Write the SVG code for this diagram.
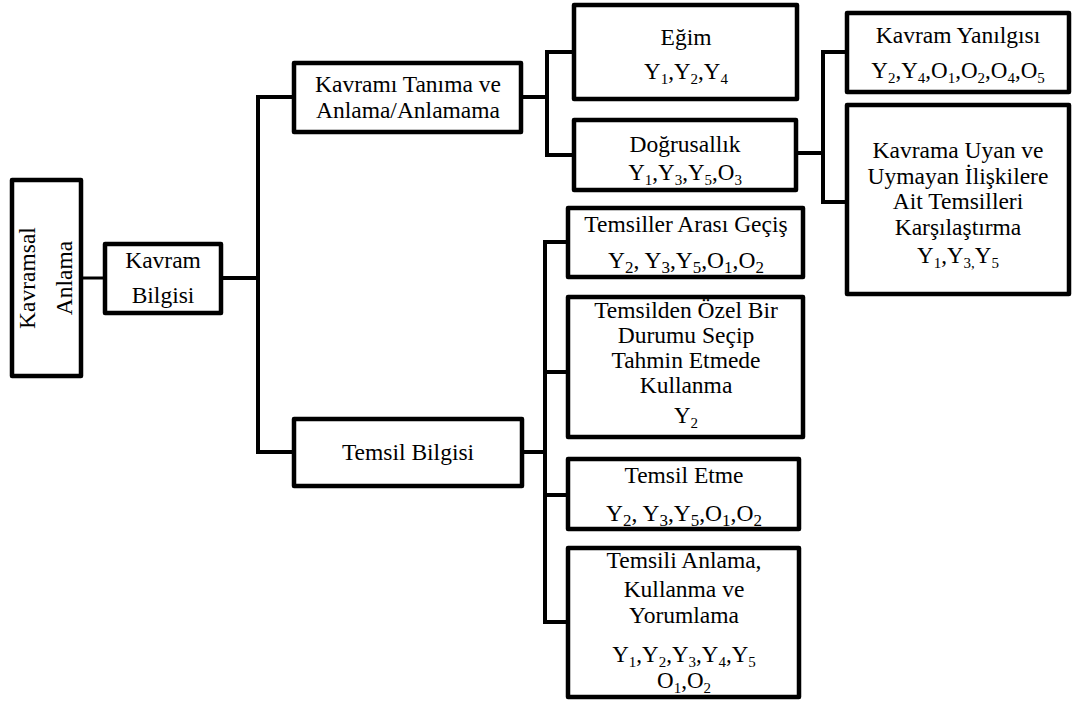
<svg xmlns="http://www.w3.org/2000/svg" width="1075" height="704" viewBox="0 0 1075 704" font-family="Liberation Serif" text-anchor="middle">
  <style>
    .box { fill: #ffffff; stroke: #000000; stroke-width: 4.5; stroke-linejoin: round; }
    .ln { fill: none; stroke: #000000; stroke-width: 4; stroke-linejoin: miter; stroke-linecap: square; }
    .thin { stroke-width: 3; }
  </style>
  <rect width="1075" height="704" fill="#ffffff"/>

  <!-- connectors -->
  <g id="connectors">
    <line class="ln thin" x1="83" y1="278" x2="103" y2="278"/>
    <line class="ln" x1="223" y1="278" x2="258" y2="278"/>
    <polyline class="ln" points="292,97 258,97 258,452 292,452"/>
    <line class="ln" x1="523" y1="97" x2="547" y2="97"/>
    <polyline class="ln" points="572,52 547,52 547,155 572,155"/>
    <line class="ln" x1="798" y1="153" x2="823" y2="153"/>
    <polyline class="ln" points="845,52 823,52 823,202 845,202"/>
    <line class="ln" x1="524" y1="452" x2="545" y2="452"/>
    <polyline class="ln" points="566,242 545,242 545,622 566,622"/>
    <line class="ln" x1="545" y1="372" x2="566" y2="372"/>
    <line class="ln" x1="545" y1="495" x2="566" y2="495"/>
  </g>

  <!-- root -->
  <g id="kavramsal-anlama">
    <rect class="box" x="12" y="180" width="69" height="196"/>
    <text font-size="23.5" transform="translate(35,278) rotate(-90)">Kavramsal</text>
    <text font-size="23.5" transform="translate(72,278) rotate(-90)">Anlama</text>
  </g>

  <g id="kavram-bilgisi">
    <rect class="box" x="105" y="244" width="116" height="69"/>
    <text font-size="23.5" x="163" y="268">Kavram</text>
    <text font-size="23.5" x="163" y="303">Bilgisi</text>
  </g>

  <g id="kavrami-tanima">
    <rect class="box" x="294" y="63" width="227" height="69"/>
    <text font-size="23.5" x="408" y="92">Kavramı Tanıma ve</text>
    <text font-size="23.5" x="408" y="118">Anlama/Anlamama</text>
  </g>

  <g id="temsil-bilgisi">
    <rect class="box" x="294" y="419" width="228" height="67"/>
    <text font-size="23.5" x="408" y="460">Temsil Bilgisi</text>
  </g>

  <g id="egim">
    <rect class="box" x="574" y="5" width="223" height="94"/>
    <text font-size="23.5" x="686" y="45">Eğim</text>
    <text font-size="23" x="686" y="79">Y<tspan font-size="15" dy="5">1</tspan><tspan dy="-5">,Y</tspan><tspan font-size="15" dy="5">2</tspan><tspan dy="-5">,Y</tspan><tspan font-size="15" dy="5">4</tspan></text>
  </g>

  <g id="dogrusallik">
    <rect class="box" x="574" y="120" width="222" height="70"/>
    <text font-size="23.5" x="685" y="152">Doğrusallık</text>
    <text font-size="23" x="685" y="180">Y<tspan font-size="15" dy="5">1</tspan><tspan dy="-5">,Y</tspan><tspan font-size="15" dy="5">3</tspan><tspan dy="-5">,Y</tspan><tspan font-size="15" dy="5">5</tspan><tspan dy="-5">,O</tspan><tspan font-size="15" dy="5">3</tspan></text>
  </g>

  <g id="kavram-yanilgisi">
    <rect class="box" x="847" y="13" width="222" height="79"/>
    <text font-size="23.5" x="958" y="43">Kavram Yanılgısı</text>
    <text font-size="23" x="958" y="78">Y<tspan font-size="15" dy="5">2</tspan><tspan dy="-5">,Y</tspan><tspan font-size="15" dy="5">4</tspan><tspan dy="-5">,O</tspan><tspan font-size="15" dy="5">1</tspan><tspan dy="-5">,O</tspan><tspan font-size="15" dy="5">2</tspan><tspan dy="-5">,O</tspan><tspan font-size="15" dy="5">4</tspan><tspan dy="-5">,O</tspan><tspan font-size="15" dy="5">5</tspan></text>
  </g>

  <g id="kavrama-uyan">
    <rect class="box" x="847" y="105" width="222" height="189"/>
    <text font-size="23.5" x="958" y="158">Kavrama Uyan ve</text>
    <text font-size="23.5" x="958" y="184">Uymayan İlişkilere</text>
    <text font-size="23.5" x="958" y="209">Ait Temsilleri</text>
    <text font-size="23.5" x="958" y="235">Karşılaştırma</text>
    <text font-size="23" x="958" y="263">Y<tspan font-size="15" dy="5">1</tspan><tspan dy="-5">,Y</tspan><tspan font-size="15" dy="5">3,</tspan><tspan dy="-5">Y</tspan><tspan font-size="15" dy="5">5</tspan></text>
  </g>

  <g id="temsiller-arasi">
    <rect class="box" x="568" y="208" width="235" height="69"/>
    <text font-size="23.5" x="686" y="232">Temsiller Arası Geçiş</text>
    <text font-size="23.5" x="686" y="268">Y<tspan font-size="17" dy="5">2</tspan><tspan dy="-5">, Y</tspan><tspan font-size="17" dy="5">3</tspan><tspan dy="-5">,Y</tspan><tspan font-size="17" dy="5">5</tspan><tspan dy="-5">,O</tspan><tspan font-size="17" dy="5">1</tspan><tspan dy="-5">,O</tspan><tspan font-size="17" dy="5">2</tspan></text>
  </g>

  <g id="temsilden-ozel">
    <rect class="box" x="568" y="297" width="235" height="140"/>
    <text font-size="23.5" x="686" y="318">Temsilden Özel Bir</text>
    <text font-size="23.5" x="686" y="343">Durumu Seçip</text>
    <text font-size="23.5" x="686" y="368">Tahmin Etmede</text>
    <text font-size="23.5" x="686" y="393">Kullanma</text>
    <text font-size="23" x="686" y="423">Y<tspan font-size="15" dy="5">2</tspan></text>
  </g>

  <g id="temsil-etme">
    <rect class="box" x="568" y="459" width="231" height="70"/>
    <text font-size="23.5" x="684" y="483">Temsil Etme</text>
    <text font-size="23.5" x="684" y="521">Y<tspan font-size="17" dy="5">2</tspan><tspan dy="-5">, Y</tspan><tspan font-size="17" dy="5">3</tspan><tspan dy="-5">,Y</tspan><tspan font-size="17" dy="5">5</tspan><tspan dy="-5">,O</tspan><tspan font-size="17" dy="5">1</tspan><tspan dy="-5">,O</tspan><tspan font-size="17" dy="5">2</tspan></text>
  </g>

  <g id="temsili-anlama">
    <rect class="box" x="568" y="548" width="231" height="149"/>
    <text font-size="23.5" x="684" y="568">Temsili Anlama,</text>
    <text font-size="23.5" x="684" y="597">Kullanma ve</text>
    <text font-size="23.5" x="684" y="623">Yorumlama</text>
    <text font-size="23" x="684" y="662">Y<tspan font-size="15" dy="5">1</tspan><tspan dy="-5">,Y</tspan><tspan font-size="15" dy="5">2</tspan><tspan dy="-5">,Y</tspan><tspan font-size="15" dy="5">3</tspan><tspan dy="-5">,Y</tspan><tspan font-size="15" dy="5">4</tspan><tspan dy="-5">,Y</tspan><tspan font-size="15" dy="5">5</tspan></text>
    <text font-size="23" x="684" y="688">O<tspan font-size="15" dy="5">1</tspan><tspan dy="-5">,O</tspan><tspan font-size="15" dy="5">2</tspan></text>
  </g>
</svg>
